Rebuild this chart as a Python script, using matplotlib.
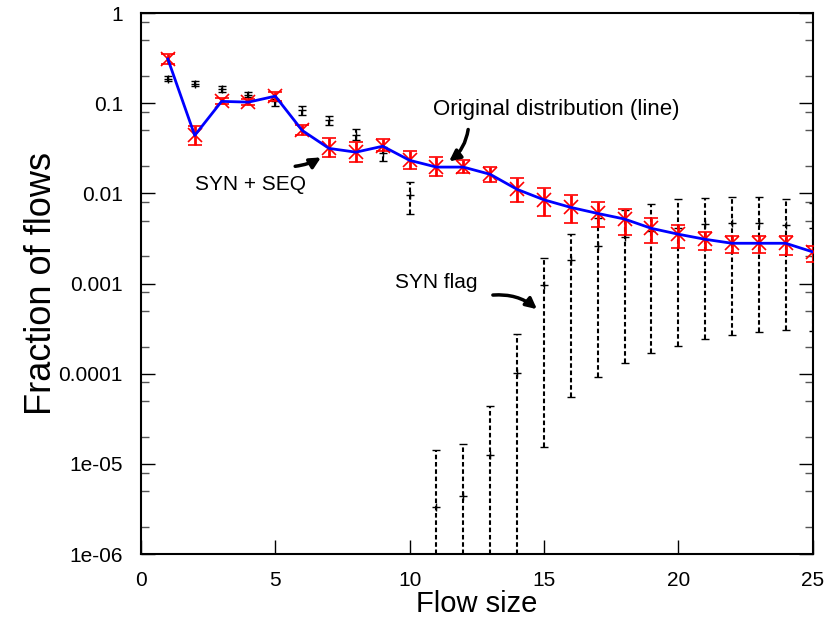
import matplotlib
matplotlib.use("Agg")
import matplotlib.pyplot as plt
from matplotlib.ticker import FixedLocator, NullFormatter
import numpy as np

plt.rcParams['font.family'] = ['Liberation Sans', 'DejaVu Sans']

# original distribution (fraction of flows per flow size) with its spread
flow_size = np.arange(1, 26)
orig_mid = [0.31, 0.044, 0.105, 0.103, 0.12, 0.050, 0.0316, 0.0287, 0.0334, 0.0233,
            0.0196, 0.0196, 0.0163, 0.0111, 0.0085, 0.0070, 0.0060, 0.0052, 0.0041, 0.00353,
            0.0031, 0.0028, 0.0028, 0.0028, 0.00225]
orig_hi = [0.355, 0.0567, 0.115, 0.113, 0.134, 0.057, 0.0407, 0.037, 0.0398, 0.0296,
           0.0251, 0.0236, 0.0196, 0.0147, 0.0116, 0.0095, 0.0081, 0.0067, 0.0054, 0.00444,
           0.00374, 0.00338, 0.00338, 0.0034, 0.00262]
orig_lo = [0.273, 0.0349, 0.097, 0.095, 0.107, 0.045, 0.0251, 0.0222, 0.0295, 0.0189,
           0.0156, 0.0167, 0.0135, 0.0080, 0.0056, 0.00467, 0.0042, 0.00344, 0.00279, 0.00251,
           0.00237, 0.00221, 0.00221, 0.0021, 0.00174]

# estimate from SYN + SEQ numbers
synseq_x = np.arange(1, 11)
synseq_mid = [0.186, 0.165, 0.144, 0.125, 0.105, 0.0845, 0.066, 0.045, 0.028, 0.0096]
synseq_hi = [0.199, 0.175, 0.154, 0.132, 0.113, 0.093, 0.073, 0.052, 0.033, 0.0134]
synseq_lo = [0.175, 0.157, 0.132, 0.117, 0.094, 0.075, 0.058, 0.039, 0.023, 0.0059]

# estimate from the SYN flag only
syn_x = np.arange(11, 26)
syn_mid = [3.29e-6, 4.43e-6, 1.27e-5, 1.02e-4, 9.7e-4, 1.83e-3, 2.63e-3, 3.3e-3, 3.8e-3, 4.1e-3,
           4.6e-3, 4.75e-3, 4.75e-3, 4.47e-3, 4.1e-3]
syn_hi = [1.41e-5, 1.66e-5, 4.34e-5, 2.78e-4, 1.90e-3, 3.59e-3, 5.3e-3, 6.5e-3, 7.7e-3, 8.6e-3,
          9.0e-3, 9.2e-3, 9.1e-3, 8.6e-3, 7.8e-3]
syn_lo = [1e-7, 1e-7, 1e-7, 1e-7, 1.54e-5, 5.5e-5, 9.2e-5, 1.32e-4, 1.70e-4, 2.05e-4,
          2.4e-4, 2.71e-4, 2.93e-4, 3.06e-4, 2.96e-4]

x_ticks = [0, 5, 10, 15, 20, 25]
y_ticks = [1e-6, 1e-5, 1e-4, 1e-3, 1e-2, 1e-1, 1]
y_tick_labels = ['1e-06', '1e-05', '0.0001', '0.001', '0.01', '0.1', '1']


def asym(mid, lo, hi):
    mid = np.array(mid)
    return np.vstack([mid - np.array(lo), np.array(hi) - mid])


fig = plt.figure(figsize=(8.26, 6.26), dpi=100)
ax = fig.add_axes([0.1707, 0.115, 0.8130, 0.864])
ax.set_yscale('log')

# dashed black estimates
for xs, mid, lo, hi in [(synseq_x, synseq_mid, synseq_lo, synseq_hi),
                        (syn_x, syn_mid, syn_lo, syn_hi)]:
    eb = ax.errorbar(xs, mid, yerr=asym(mid, lo, hi), fmt='+', color='black',
                     ms=6, mew=1, elinewidth=1.5, capsize=3, capthick=1.5, zorder=2)
    for col in eb[2]:
        col.set_linestyle((0, (2.2, 1.3)))

# original distribution: red error bars + blue line
ax.errorbar(flow_size, orig_mid, yerr=asym(orig_mid, orig_lo, orig_hi), fmt='x',
            color='red', ms=10, mew=1.2, elinewidth=2, capsize=5, capthick=2, zorder=3)
ax.plot(flow_size, orig_mid, color='blue', lw=2, zorder=4)

ax.set_xlim(0, 25)
ax.set_ylim(1e-6, 1)
ax.xaxis.set_major_locator(FixedLocator(x_ticks))
ax.yaxis.set_major_locator(FixedLocator(y_ticks))
ax.set_yticklabels(y_tick_labels)
minor = [m * 10.0 ** e for e in range(-6, 0) for m in (2, 5, 8)]
ax.yaxis.set_minor_locator(FixedLocator(minor))
ax.yaxis.set_minor_formatter(NullFormatter())
ax.xaxis.set_minor_locator(FixedLocator([]))

ax.tick_params(axis='both', which='major', direction='in', length=10, width=1,
               labelsize=15)
ax.tick_params(axis='x', which='major', pad=12)
ax.tick_params(axis='y', which='major', pad=13)
ax.tick_params(axis='y', which='both', right=True)
ax.tick_params(axis='y', which='minor', direction='in', length=6, width=1, color='#555555')
ax.tick_params(axis='x', top=False)
for sp in ax.spines.values():
    sp.set_linewidth(1.5)

ax.set_xlabel('Flow size', fontsize=21, labelpad=0)
ax.set_ylabel('Fraction of flows', fontsize=26, labelpad=0)

arrow = dict(arrowstyle='-|>', color='black', lw=2.5, mutation_scale=16,
             shrinkA=0, shrinkB=0)
ax.text(15.46, 0.085, 'Original distribution (line)', fontsize=16,
        ha='center', va='center')
ax.annotate('', xy=(11.47, 0.0227), xytext=(12.18, 0.0512),
            arrowprops=dict(arrow, connectionstyle='arc3,rad=-0.2'))

ax.text(4.06, 0.0126, 'SYN + SEQ', fontsize=15, ha='center', va='center')
ax.annotate('', xy=(6.70, 0.0251), xytext=(5.74, 0.020),
            arrowprops=dict(arrow, connectionstyle='arc3,rad=0.1'))

ax.text(10.99, 1.04e-3, 'SYN flag', fontsize=15, ha='center', va='center')
ax.annotate('', xy=(14.74, 5.2e-4), xytext=(13.1, 7.46e-4),
            arrowprops=dict(arrow, connectionstyle='arc3,rad=-0.2'))

fig.savefig('out.png', dpi=100)
